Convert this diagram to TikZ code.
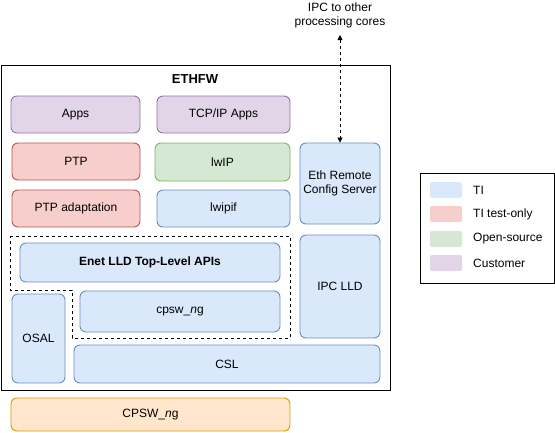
\documentclass[tikz,border=0pt]{standalone}
\usepackage{fontspec}
\setmainfont{Liberation Sans}
\usetikzlibrary{arrows.meta}
\definecolor{bfill}{HTML}{DAE8FC}\definecolor{bdraw}{HTML}{6C8EBF}
\definecolor{rfill}{HTML}{F8CECC}\definecolor{rdraw}{HTML}{B85450}
\definecolor{gfill}{HTML}{D5E8D4}\definecolor{gdraw}{HTML}{82B366}
\definecolor{pfill}{HTML}{E1D5E7}\definecolor{pdraw}{HTML}{9673A6}
\definecolor{ofill}{HTML}{FFE6CC}\definecolor{odraw}{HTML}{D79B00}
\tikzset{
  blk/.style={draw, rounded corners=6pt, line width=0.9pt, inner sep=0pt, align=center,
    font=\fontsize{12}{14}\selectfont},
  tiblk/.style={blk, fill=bfill, draw=bdraw},
  testblk/.style={blk, fill=rfill, draw=rdraw},
  osblk/.style={blk, fill=gfill, draw=gdraw},
  cublk/.style={blk, fill=pfill, draw=pdraw},
  hwblk/.style={blk, fill=ofill, draw=odraw},
  swatch/.style={fill=#1, rounded corners=2pt, minimum width=32pt, minimum height=16pt, inner sep=0pt},
  lbl/.style={font=\fontsize{12}{14}\selectfont, anchor=west, inner sep=0pt},
}
\newcommand{\bx}[6]{\node[#1, minimum width=#4-#2, minimum height=#5-#3] (#6) at ({(#2+#4)/2},{(#3+#5)/2})}
\begin{document}
\begin{tikzpicture}[x=1pt,y=-1pt]
\useasboundingbox (0,0) rectangle (555,432);
% outer
\node[draw, line width=0.9pt, minimum width=389, minimum height=325, inner sep=0pt] (ethfw) at (195.5,227.5) {};
\node[font=\fontsize{13}{15}\selectfont\bfseries] (title) at (195,79) {ETHFW};
% blocks
\bx{cublk}{11}{96}{140}{133}{apps} {Apps};
\bx{cublk}{157}{96}{290}{133}{tcpapps} {TCP/IP Apps};
\bx{testblk}{12}{143}{140}{180}{ptp} {PTP};
\bx{osblk}{155}{143}{290}{181}{lwip} {lwIP};
\bx{testblk}{12}{190}{140}{227}{ptpad} {PTP adaptation};
\bx{tiblk}{157}{190}{290}{227}{lwipif} {lwipif};
\bx{tiblk}{300}{143}{380}{224}{ercs} {Eth Remote\\Config Server};
\bx{tiblk}{300}{235}{380}{338}{ipclld} {IPC LLD};
\draw[dashed, line width=0.8pt] (10,236) -- (290,236) -- (290,338) -- (72,338) -- (72,290) -- (10,290) -- cycle;
\bx{tiblk}{20}{243}{280}{282}{enet} {\textbf{Enet LLD Top-Level APIs}};
\bx{tiblk}{80}{291}{280}{332}{cpsw} {cpsw\_\textit{n}g};
\bx{tiblk}{12}{294}{65}{383}{osal} {OSAL};
\bx{tiblk}{74}{345}{380}{383}{csl} {CSL};
\bx{hwblk}{11}{398}{290}{431}{hw} {CPSW\_\textit{n}g};
% IPC arrow
\node[align=center, font=\fontsize{12}{14}\selectfont, inner sep=0pt] (ipc) at (340,15) {IPC to other\\processing cores};
\coordinate (ipctop) at (340,35);
\draw[dashed, line width=0.8pt, {Triangle[length=5pt,width=5pt]}-{Triangle[length=5pt,width=5pt]}] (ipctop) -- (ercs.north);
% legend
\node[draw, line width=0.9pt, minimum width=134, minimum height=110, inner sep=0pt] (legend) at (487,228) {};
\node[swatch=bfill] (s1) at (446,190) {};
\node[swatch=rfill] (s2) at (446,214) {};
\node[swatch=gfill] (s3) at (446,239) {};
\node[swatch=pfill] (s4) at (446,263) {};
\node[lbl] (l1) at (473,190) {TI};
\node[lbl] (l2) at (473,214) {TI test-only};
\node[lbl] (l3) at (473,239) {Open-source};
\node[lbl] (l4) at (473,263) {Customer};
\end{tikzpicture}
\end{document}
